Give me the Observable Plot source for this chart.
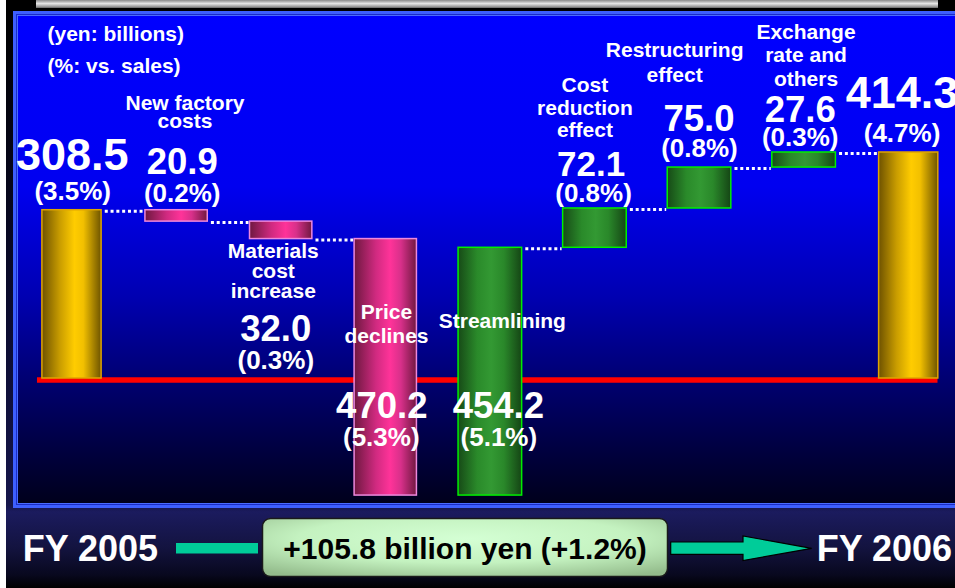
<!DOCTYPE html>
<html>
<head>
<meta charset="utf-8">
<script src="https://cdn.jsdelivr.net/npm/d3@7"></script>
<script src="https://cdn.jsdelivr.net/npm/@observablehq/plot@0.6"></script>
<style>
html, body { margin: 0; padding: 0; background: #fff; }
#page { position: relative; width: 955px; height: 588px; overflow: hidden; background: #fff; }
#slide { position: absolute; left: 6px; top: 0; right: 0; bottom: 0;
  background: linear-gradient(to bottom, #000 0px, #000 12px, #0a0a2c 300px, #15154a 505px, #1b1b5e 512px, #13133f 548px, #08081e 575px, #000 588px); }
#greybar { position: absolute; left: 36px; top: 0; width: 902px; height: 8px;
  background: linear-gradient(to bottom, #8a8a8a, #e6e6e6 45%, #a0a0a0 80%, #666); }
#panel { position: absolute; left: 13px; top: 11px; width: 960px; height: 497px; background: #3d5fff; }
#panel .b1 { position: absolute; inset: 3px; background: #1a2cc8; }
#panel .b2 { position: absolute; inset: 4px; background: #4a6cff; }
#panel .b3 { position: absolute; inset: 5px;
  background: linear-gradient(to bottom, #0000ff 0%, #0000f0 35%, #0000b0 58%, #000070 75%, #000040 89%, #00001c 100%); }
#chart, #footer { position: absolute; left: 0; top: 0; }
</style>
</head>
<body>
<div id="page">
  <div id="slide"></div>
  <div id="greybar"></div>
  <div id="panel"><div class="b1"></div><div class="b2"></div><div class="b3"></div></div>
  <div id="chart"></div>
  <svg id="footer" width="955" height="588"></svg>
</div>
<script>
// ---- data ----
const categories = ["FY 2005", "New factory costs", "Materials cost increase", "Price declines",
  "Streamlining", "Cost reduction effect", "Restructuring effect", "Exchange rate and others", "FY 2006"];
const nameLabels = ["", "New factory\ncosts", "Materials\ncost\nincrease", "Price\ndeclines",
  "Streamlining", "Cost\nreduction\neffect", "Restructuring\neffect", "Exchange\nrate and\nothers", ""];
const changes = [308.5, -20.9, -32.0, -470.2, 454.2, 72.1, 75.0, 27.6, 414.3];
const kinds = ["total", "decrease", "decrease", "decrease", "increase", "increase", "increase", "increase", "total"];
const valueLabels = ["308.5", "20.9", "32.0", "470.2", "454.2", "72.1", "75.0", "27.6", "414.3"];
const percentLabels = ["(3.5%)", "(0.2%)", "(0.3%)", "(5.3%)", "(5.1%)", "(0.8%)", "(0.8%)", "(0.3%)", "(4.7%)"];
const connectAfter = [true, true, true, false, true, true, true, true, false];
const unitNotes = ["(yen: billions)", "(%: vs. sales)"];
const footerStart = "FY 2005";
const footerEnd = "FY 2006";
const footerChange = "+105.8 billion yen (+1.2%)";

// ---- derived rows (waterfall levels) ----
let level = 0;
const rows = categories.map((c, i) => {
  let y1, y2;
  if (kinds[i] === "total") { y1 = 0; y2 = changes[i]; level = changes[i]; }
  else { y1 = level; level += changes[i]; y2 = level; }
  return { i, category: c, kind: kinds[i], y1, y2, top: Math.max(y1, y2), end: level,
    name: nameLabels[i], value: valueLabels[i], pct: percentLabels[i], connect: connectAfter[i] };
});

// ---- layout (pixel offsets, sizes) ----
const FONT = "'Liberation Sans', Arial, Helvetica, sans-serif";
const halfWidth = { total: 0.283, decrease: 0.298, increase: 0.304 };
const hwOf = i => halfWidth[kinds[i]];
const layout = [
  { anchor: "top",  vdx: 0.2,  vdy: -40,   vs: 45,   pdx: 0.7,  pdy: -10 },
  { anchor: "top",  ndx: 8.4,  ndy: -82,   lh: 0.87, vdx: 5.6,  vdy: -36,  vs: 36.5, pdx: 5.6,  pdy: -8 },
  { anchor: "zero", ndx: -7.9, ndy: -81,   lh: 0.93, vdx: -5.4, vdy: -38,  vs: 36.5, pdx: -5.4, pdy: -10 },
  { anchor: "zero", ndx: 0.7,  ndy: -36,   lh: 1.13, vdx: -4,   vdy: 39,   vs: 36.5, pdx: -4.5, pdy: 67 },
  { anchor: "zero", ndx: 12,   ndy: -51,   lh: 1,    vdx: 8,    vdy: 39,   vs: 36.5, pdx: 8.5,  pdy: 67 },
  { anchor: "top",  ndx: -10,  ndy: -71,   lh: 1.08, vdx: -3.8, vdy: -32,  vs: 35,   pdx: -1.4, pdy: -6 },
  { anchor: "top",  ndx: -24.9,ndy: -85.4, lh: 1.19, vdx: -0.6, vdy: -37,  vs: 36.5, pdx: -0.1, pdy: -10.4 },
  { anchor: "top",  ndx: 1.9,  ndy: -67,   lh: 1.11, vdx: -3.9, vdy: -30.3,vs: 36.5, pdx: -3.9, pdy: -6.3 },
  { anchor: "top",  vdx: -6.7, vdy: -44.7, vs: 45,   pdx: -6.7, pdy: -10.3 }
];

const styleByKind = {
  total:    { fill: "url(#g-total)",    stroke: "#e0a400" },
  decrease: { fill: "url(#g-decrease)", stroke: "#ee88dd" },
  increase: { fill: "url(#g-increase)", stroke: "#00ee00" }
};

const marks = [];
// baseline
marks.push(Plot.ruleY([0], { x1: () => -0.33, x2: () => 8.28, stroke: "#ff0000", strokeWidth: 5.5, dy: 1.5 }));
// bars
for (const k of Object.keys(styleByKind)) {
  marks.push(Plot.rect(rows.filter(r => r.kind === k), {
    x1: d => d.i - hwOf(d.i), x2: d => d.i + hwOf(d.i), y1: "y1", y2: "y2",
    fill: styleByKind[k].fill, stroke: styleByKind[k].stroke, strokeWidth: 1.5
  }));
}
// connectors
marks.push(Plot.ruleY(rows.filter(r => r.connect), {
  y: "end", x1: d => d.i + hwOf(d.i) + 0.035, x2: d => d.i + 1 - hwOf(d.i + 1) - 0.01,
  stroke: "white", strokeWidth: 3, strokeDasharray: "3,2.8", dy: 1
}));
// labels
rows.forEach((r, i) => {
  const L = layout[i];
  const yv = () => (L.anchor === "top" ? r.top : 0);
  const common = { x: "i", y: yv, fill: "white", fontWeight: "bold", fontFamily: FONT, lineAnchor: "bottom", textAnchor: "middle" };
  if (r.name) marks.push(Plot.text([r], { ...common, text: "name", dx: L.ndx, dy: L.ndy, fontSize: 21, lineHeight: L.lh }));
  marks.push(Plot.text([r], { ...common, text: "value", dx: L.vdx, dy: L.vdy, fontSize: L.vs }));
  marks.push(Plot.text([r], { ...common, text: "pct", dx: L.pdx, dy: L.pdy, fontSize: 26 }));
});
// unit notes
marks.push(Plot.text([unitNotes.join("\n")], {
  text: d => d, frameAnchor: "top-left", textAnchor: "start", lineAnchor: "bottom",
  dx: 47, dy: 72, lineHeight: 32 / 21, fontSize: 21, fontWeight: "bold", fontFamily: FONT, fill: "white"
}));

const chart = Plot.plot({
  width: 955, height: 588, margin: 0,
  x: { type: "linear", domain: [0, categories.length - 1], range: [71.5, 908.2], axis: null },
  y: { type: "linear", domain: [0, d3.max(rows, r => r.top)], range: [378, 152], axis: null },
  style: { background: "transparent", fontFamily: FONT, overflow: "visible" },
  marks
});

// gradients for bar fills
const svgSel = d3.select(chart);
const defs = svgSel.insert("defs", ":first-child");
const grads = {
  "g-total":    [["0%", "#6e5200"], ["30%", "#c89c00"], ["55%", "#ffcc00"], ["70%", "#f2c000"], ["100%", "#6e5400"]],
  "g-decrease": [["0%", "#6e1840"], ["35%", "#d02a80"], ["58%", "#ff3399"], ["75%", "#d8308a"], ["100%", "#701840"]],
  "g-increase": [["0%", "#174a17"], ["30%", "#2a8a2a"], ["52%", "#339933"], ["72%", "#2a882a"], ["100%", "#154515"]]
};
for (const [id, stops] of Object.entries(grads)) {
  const g = defs.append("linearGradient").attr("id", id).attr("x1", "0").attr("x2", "1").attr("y1", "0").attr("y2", "0");
  for (const [o, c] of stops) g.append("stop").attr("offset", o).attr("stop-color", c);
}
document.getElementById("chart").appendChild(chart);

// ---- footer decoration ----
const f = d3.select("#footer");
const fd = f.append("defs");
const rg = fd.append("radialGradient").attr("id", "boxfill").attr("cx", "50%").attr("cy", "35%").attr("r", "75%");
rg.append("stop").attr("offset", "0%").attr("stop-color", "#d4ffd4");
rg.append("stop").attr("offset", "55%").attr("stop-color", "#c4f2c0");
rg.append("stop").attr("offset", "100%").attr("stop-color", "#94bc8c");
f.append("text").attr("x", 22.7).attr("y", 560.5).text(footerStart)
  .attr("fill", "white").attr("font-family", FONT).attr("font-weight", "bold").attr("font-size", 36);
f.append("rect").attr("x", 176).attr("y", 543).attr("width", 82).attr("height", 10.5).attr("fill", "#00cc99");
f.append("rect").attr("x", 262.5).attr("y", 518.5).attr("width", 405).attr("height", 58).attr("rx", 8)
  .attr("fill", "url(#boxfill)").attr("stroke", "#1a1a1a").attr("stroke-width", 1.5);
f.append("text").attr("x", 465).attr("y", 559).attr("text-anchor", "middle").text(footerChange)
  .attr("fill", "#000").attr("font-family", FONT).attr("font-weight", "bold").attr("font-size", 30);
f.append("polygon")
  .attr("points", "670.7,542 743,542 743,536 811.7,548.3 743,560.5 743,554.3 670.7,554.3")
  .attr("fill", "#00cc99").attr("stroke", "#000").attr("stroke-width", 1.2);
f.append("text").attr("x", 816.7).attr("y", 560.5).text(footerEnd)
  .attr("fill", "white").attr("font-family", FONT).attr("font-weight", "bold").attr("font-size", 36);
</script>
</body>
</html>
